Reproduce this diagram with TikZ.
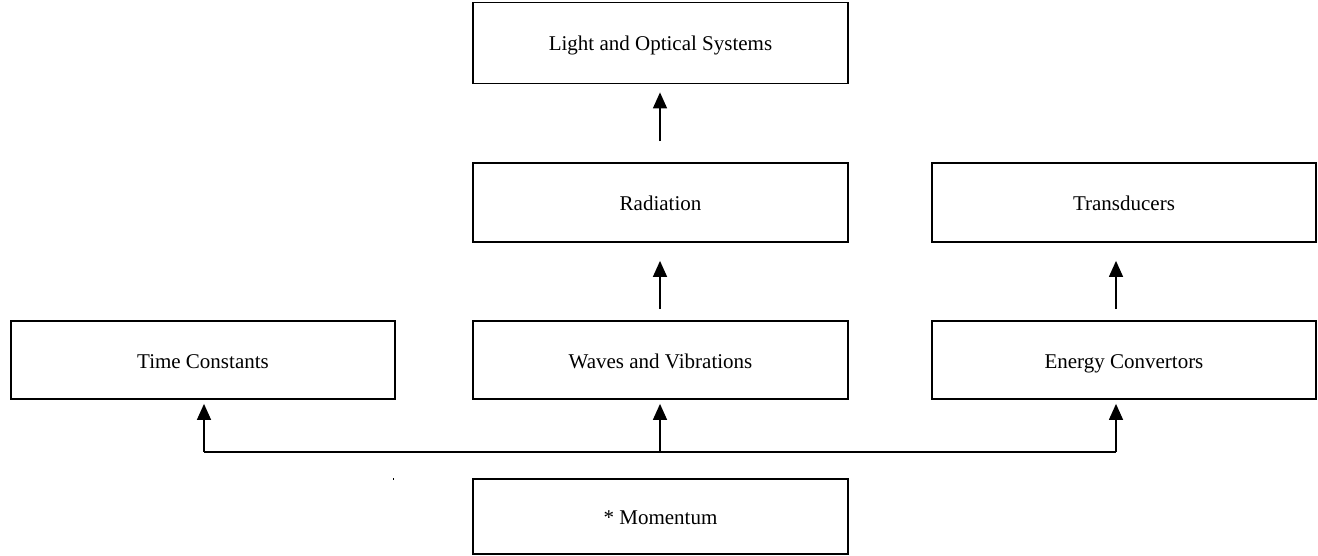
\documentclass[tikz,border=0pt]{standalone}
\usepackage{fontspec}
\setmainfont{Liberation Serif}
\usetikzlibrary{arrows.meta}
\tikzset{
	kotak/.style={draw,line width=1.8pt,inner sep=0pt,minimum height=79pt,text height=16pt,text depth=0pt,font=\fontsize{21}{25}\selectfont},
	kotaktengah/.style={kotak,minimum width=375pt},
	kotaksisi/.style={kotak,minimum width=384pt},
	garis/.style={line width=1.4pt},
	panah/.style={garis,-{Triangle[width=14pt,length=16pt]}}
}
\begin{document}
\begin{tikzpicture}[x=1pt,y=-1pt]
			\useasboundingbox (0,0) rectangle (1318,556);
			\node[kotaktengah,minimum height=81pt] (light) at (660.5,43) {Light and Optical Systems};
			\node[kotaktengah] (rad) at (660.5,202.5) {Radiation};
			\node[kotaksisi] (trans) at (1124,202.5) {Transducers};
			\node[kotaksisi,minimum height=78pt] (time) at (203,360) {Time Constants};
			\node[kotaktengah,minimum height=78pt] (waves) at (660.5,360) {Waves and Vibrations};
			\node[kotaksisi,minimum height=78pt] (energy) at (1124,360) {Energy Convertors};
			\node[kotaktengah,minimum height=75pt] (mom) at (660.5,516.5) {* Momentum};
			\coordinate (bus) at (660,452);
				\draw[panah,shorten <=21pt,shorten >=8pt] ([xshift=-0.5pt]rad.north) -- ([xshift=-0.5pt]light.south);
				\draw[panah,shorten <=11pt,shorten >=18pt] ([xshift=-0.5pt]waves.north) -- ([xshift=-0.5pt]rad.south);
				\draw[panah,shorten <=11pt,shorten >=18pt] ([xshift=-8pt]energy.north) -- ([xshift=-8pt]trans.south);
				\draw[garis] ([xshift=1pt]time.south |- bus) -- ([xshift=-8pt]energy.south |- bus);
				\draw[panah,shorten >=4pt] ([xshift=1pt]time.south |- bus) -- ([xshift=1pt]time.south);
				\draw[panah,shorten >=4pt] (bus) -- (bus |- waves.south);
				\draw[panah,shorten >=4pt] ([xshift=-8pt]energy.south |- bus) -- ([xshift=-8pt]energy.south);
				\fill (392.5,478) rectangle +(1.5,1.5);
		\end{tikzpicture}
\end{document}
